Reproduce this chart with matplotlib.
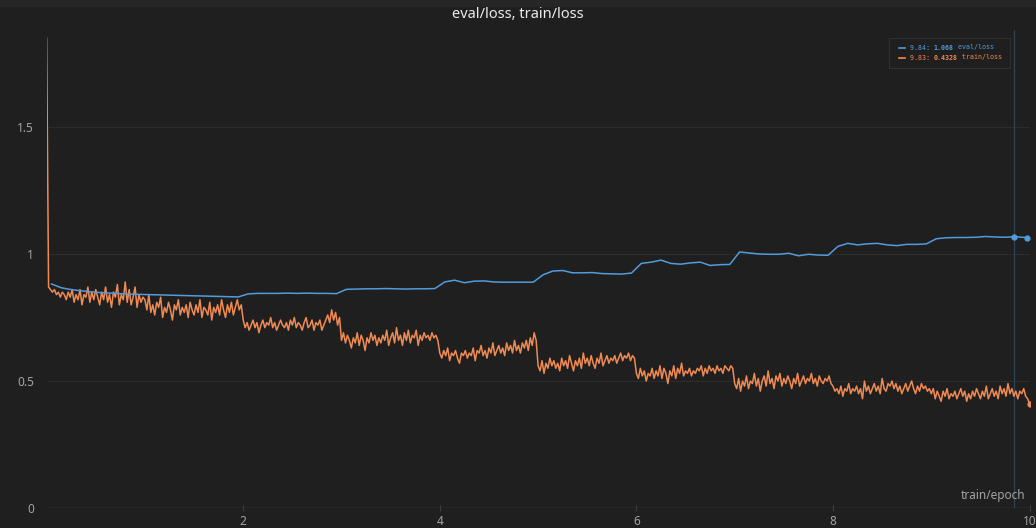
import matplotlib
matplotlib.use('Agg')
import matplotlib.pyplot as plt
import numpy as np

# train/loss, one value per 0.02 epoch
steps_per_epoch = 50
train_ep0 = [1.85, 0.87, 0.86, 0.85, 0.86, 0.84, 0.85, 0.83, 0.85, 0.84,
             0.82, 0.85, 0.83, 0.86, 0.81, 0.84, 0.82, 0.86, 0.80, 0.84,
             0.83, 0.87, 0.81, 0.85, 0.82, 0.86, 0.83, 0.80, 0.85, 0.82,
             0.87, 0.81, 0.84, 0.79, 0.85, 0.83, 0.88, 0.80, 0.84, 0.82,
             0.89, 0.81, 0.86, 0.80, 0.83, 0.87, 0.79, 0.84, 0.81, 0.83]
train_ep1 = [0.82, 0.78, 0.84, 0.77, 0.80, 0.76, 0.81, 0.79, 0.83, 0.75,
             0.79, 0.77, 0.81, 0.78, 0.74, 0.80, 0.78, 0.82, 0.76, 0.79,
             0.77, 0.80, 0.75, 0.81, 0.78, 0.76, 0.80, 0.77, 0.82, 0.75,
             0.79, 0.78, 0.76, 0.81, 0.74, 0.79, 0.77, 0.80, 0.76, 0.82,
             0.78, 0.75, 0.80, 0.77, 0.81, 0.76, 0.79, 0.82, 0.78, 0.80]
train_ep2 = [0.74, 0.71, 0.73, 0.70, 0.72, 0.74, 0.71, 0.73, 0.69, 0.72,
             0.74, 0.71, 0.73, 0.72, 0.75, 0.71, 0.73, 0.70, 0.72, 0.74,
             0.72, 0.71, 0.73, 0.70, 0.74, 0.72, 0.75, 0.71, 0.73, 0.72,
             0.70, 0.73, 0.75, 0.71, 0.72, 0.74, 0.70, 0.73, 0.72, 0.74,
             0.70, 0.72, 0.74, 0.76, 0.73, 0.78, 0.74, 0.77, 0.72, 0.75]
train_ep3 = [0.66, 0.69, 0.65, 0.68, 0.66, 0.63, 0.67, 0.65, 0.69, 0.64,
             0.68, 0.66, 0.62, 0.67, 0.65, 0.69, 0.66, 0.68, 0.64, 0.67,
             0.65, 0.68, 0.66, 0.70, 0.64, 0.67, 0.69, 0.65, 0.71, 0.66,
             0.68, 0.64, 0.69, 0.66, 0.70, 0.65, 0.68, 0.67, 0.70, 0.64,
             0.68, 0.66, 0.69, 0.67, 0.68, 0.66, 0.69, 0.67, 0.68, 0.66]
train_ep4 = [0.61, 0.59, 0.62, 0.60, 0.63, 0.58, 0.61, 0.60, 0.62, 0.59,
             0.57, 0.61, 0.60, 0.62, 0.59, 0.61, 0.60, 0.63, 0.58, 0.62,
             0.61, 0.64, 0.60, 0.62, 0.59, 0.63, 0.61, 0.65, 0.60, 0.62,
             0.64, 0.61, 0.63, 0.60, 0.65, 0.62, 0.64, 0.61, 0.66, 0.62,
             0.64, 0.61, 0.65, 0.63, 0.66, 0.62, 0.67, 0.64, 0.69, 0.66]
train_ep5 = [0.56, 0.54, 0.58, 0.53, 0.57, 0.55, 0.59, 0.56, 0.58, 0.55,
             0.57, 0.54, 0.59, 0.56, 0.58, 0.55, 0.60, 0.57, 0.54, 0.58,
             0.56, 0.59, 0.55, 0.61, 0.57, 0.59, 0.56, 0.60, 0.57, 0.55,
             0.59, 0.57, 0.61, 0.56, 0.58, 0.60, 0.57, 0.59, 0.58, 0.60,
             0.57, 0.59, 0.61, 0.58, 0.60, 0.59, 0.61, 0.58, 0.60, 0.59]
train_ep6 = [0.53, 0.51, 0.55, 0.52, 0.54, 0.50, 0.53, 0.52, 0.55, 0.51,
             0.54, 0.52, 0.56, 0.51, 0.55, 0.53, 0.49, 0.54, 0.52, 0.56,
             0.51, 0.55, 0.53, 0.57, 0.52, 0.54, 0.53, 0.55, 0.52, 0.54,
             0.53, 0.55, 0.54, 0.56, 0.52, 0.55, 0.53, 0.56, 0.54, 0.55,
             0.53, 0.56, 0.54, 0.55, 0.53, 0.56, 0.55, 0.54, 0.56, 0.55]
train_ep7 = [0.49, 0.47, 0.51, 0.46, 0.50, 0.48, 0.52, 0.47, 0.50, 0.49,
             0.53, 0.48, 0.51, 0.46, 0.50, 0.52, 0.48, 0.54, 0.49, 0.51,
             0.47, 0.52, 0.50, 0.53, 0.48, 0.51, 0.49, 0.52, 0.50, 0.47,
             0.51, 0.49, 0.53, 0.48, 0.50, 0.52, 0.49, 0.51, 0.50, 0.53,
             0.49, 0.51, 0.48, 0.52, 0.50, 0.49, 0.51, 0.50, 0.52, 0.49]
train_ep8 = [0.48, 0.46, 0.47, 0.45, 0.48, 0.44, 0.47, 0.46, 0.49, 0.45,
             0.47, 0.46, 0.48, 0.45, 0.47, 0.43, 0.50, 0.46, 0.48, 0.45,
             0.47, 0.49, 0.46, 0.48, 0.45, 0.51, 0.47, 0.46, 0.49, 0.48,
             0.50, 0.47, 0.49, 0.46, 0.48, 0.45, 0.47, 0.49, 0.46, 0.48,
             0.50, 0.47, 0.45, 0.48, 0.46, 0.49, 0.47, 0.48, 0.46, 0.47]
train_ep9 = [0.45, 0.47, 0.43, 0.46, 0.44, 0.42, 0.46, 0.44, 0.47, 0.43,
             0.45, 0.44, 0.46, 0.43, 0.45, 0.47, 0.44, 0.46, 0.42, 0.45,
             0.43, 0.46, 0.44, 0.47, 0.45, 0.43, 0.46, 0.44, 0.48, 0.43,
             0.45, 0.47, 0.44, 0.46, 0.43, 0.48, 0.45, 0.47, 0.44, 0.49,
             0.45, 0.47, 0.44, 0.46, 0.43, 0.46, 0.45, 0.47, 0.44, 0.43,
             0.41]
train_loss = (train_ep0 + train_ep1 + train_ep2 + train_ep3 + train_ep4
              + train_ep5 + train_ep6 + train_ep7 + train_ep8 + train_ep9)
train_epoch = np.arange(len(train_loss)) / steps_per_epoch

# eval/loss, roughly every 0.1 epoch
eval_epoch = [round(0.05 + 0.1 * i, 2) for i in range(98)] + [9.84, 9.97]
eval_loss = [0.882, 0.867, 0.860, 0.855, 0.851, 0.848, 0.846, 0.844, 0.842, 0.841,
             0.840, 0.839, 0.838, 0.837, 0.836, 0.835, 0.834, 0.833, 0.832, 0.831,
             0.843, 0.845, 0.845, 0.845, 0.846, 0.845, 0.846, 0.845, 0.845, 0.844,
             0.861, 0.862, 0.863, 0.863, 0.864, 0.863, 0.862, 0.863, 0.863, 0.864,
             0.890, 0.897, 0.887, 0.893, 0.894, 0.890, 0.889, 0.889, 0.889, 0.889,
             0.918, 0.933, 0.935, 0.926, 0.926, 0.927, 0.923, 0.922, 0.921, 0.925,
             0.963, 0.968, 0.976, 0.963, 0.960, 0.965, 0.968, 0.955, 0.958, 0.959,
             1.008, 1.004, 1.000, 0.999, 0.999, 1.003, 0.993, 0.999, 0.996, 0.995,
             1.030, 1.042, 1.036, 1.040, 1.042, 1.036, 1.033, 1.038, 1.038, 1.040,
             1.060, 1.064, 1.065, 1.065, 1.066, 1.069, 1.067, 1.066, 1.068, 1.065]

hover_epoch = 9.84
y_ticks = [0, 0.5, 1, 1.5]
y_tick_labels = ['0', '0.5', '1', '1.5']
x_ticks = [2, 4, 6, 8, 10]

bg = '#1f1f1f'
blue = '#519cdc'
orange = '#ef8a52'
tick_color = '#a3a3a3'

W, H = 1036, 528
fig = plt.figure(figsize=(W / 100, H / 100), dpi=100, facecolor=bg)
ax = fig.add_axes([46.6 / W, 20 / H, (1029.6 - 46.6) / W, 478 / H])
ax.set_facecolor(bg)
fig.patches.append(plt.Rectangle((0, 1 - 6 / H), 1, 6 / H, transform=fig.transFigure,
                                 color='#262626', zorder=0))

ax.set_xlim(0, 10)
ax.set_ylim(0, 1.882)

for y in y_ticks[1:]:
    ax.axhline(y, color='#2c2c2c', lw=0.8, zorder=1)
ax.axhline(0, color='#3e3e3e', lw=1.0, zorder=1)
ax.axvline(hover_epoch, color='#2f4356', lw=0.9, zorder=2)

ax.plot(train_epoch, train_loss, color=orange, lw=1.1, zorder=3)
ax.plot(eval_epoch, eval_loss, color=blue, lw=1.1, zorder=4)
ax.plot(eval_epoch[-2:], eval_loss[-2:], 'o', color=blue, ms=3.5, zorder=5)
ax.plot(train_epoch[-1], train_loss[-1], 'o', color=orange, ms=3.5, zorder=5)

for s in ax.spines.values():
    s.set_visible(False)
ax.set_yticks(y_ticks)
ax.set_yticklabels(y_tick_labels)
ax.set_xticks(x_ticks)
ax.set_xticklabels([str(t) for t in x_ticks])
ax.tick_params(axis='y', length=0, pad=9, labelsize=8.5, labelcolor=tick_color)
ax.tick_params(axis='x', length=4, width=0.8, color='#3e3e3e', direction='inout',
               pad=3, labelsize=8.5, labelcolor=tick_color)
for lab in ax.get_xticklabels() + ax.get_yticklabels():
    lab.set_fontfamily('Noto Sans')

ax.text(0.996, 0.012, 'train/epoch', transform=ax.transAxes, ha='right', va='bottom',
        fontsize=8.5, color=tick_color, family='Noto Sans')

fig.text(0.5, 1 - 15 / H, 'eval/loss, train/loss', ha='center', va='center',
         fontsize=10.5, color='#ececec', weight='bold', family='Noto Sans')

# hover legend box
ax_leg = fig.add_axes([889 / W, 1 - 68 / H, 121 / W, 30 / H])
ax_leg.set_xlim(0, 121)
ax_leg.set_ylim(30, 0)
ax_leg.set_xticks([])
ax_leg.set_yticks([])
ax_leg.set_facecolor(bg)
for s in ax_leg.spines.values():
    s.set_color('#303030')
    s.set_linewidth(0.8)

cw = 3.97
rows = [(9.5, blue, '9.84: ', '1.068', ' eval/loss'),
        (19.5, orange, '9.83: ', '0.4328', ' train/loss')]
for y, c, a, b, d in rows:
    ax_leg.plot([10, 16], [y, y], color=c, lw=1.2)
    x0 = 21
    ax_leg.text(x0, y, a, color=c, fontsize=4.8, family='DejaVu Sans Mono', va='center')
    ax_leg.text(x0 + cw * len(a), y, b, color=c, fontsize=4.8, family='DejaVu Sans Mono',
                weight='bold', va='center')
    ax_leg.text(x0 + cw * (len(a) + len(b)), y, d, color=c, fontsize=4.8,
                family='DejaVu Sans Mono', va='center')

fig.savefig('out.png', dpi=100, facecolor=bg)
